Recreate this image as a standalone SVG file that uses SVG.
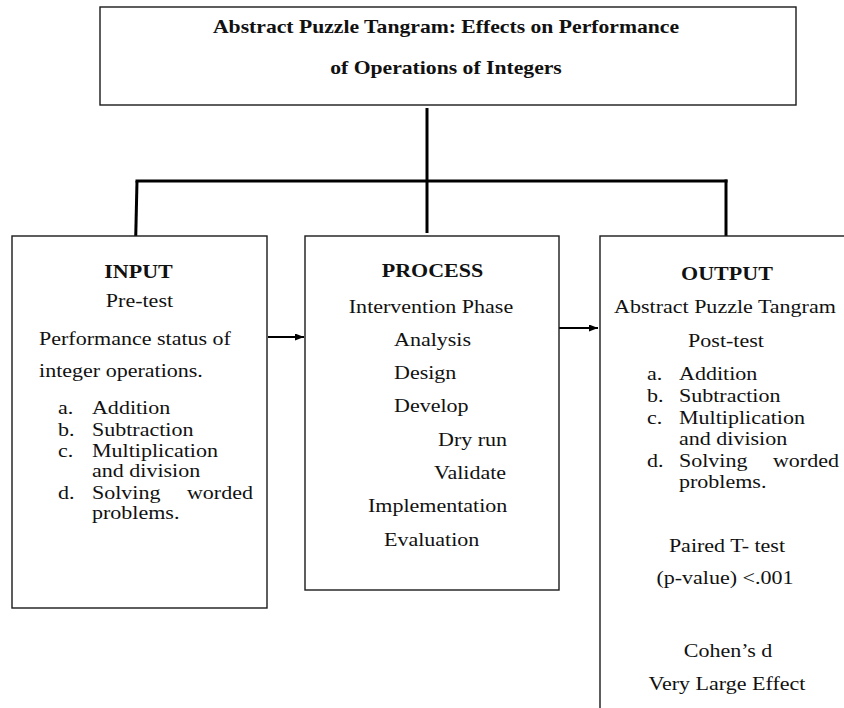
<svg xmlns="http://www.w3.org/2000/svg" width="844" height="708" viewBox="0 0 844 708" font-family="'Liberation Serif', 'Times New Roman', serif">
<style>
  .box { fill: #ffffff; stroke: #1a1a1a; stroke-width: 1.4; }
  .conn { fill: none; stroke: #000000; stroke-width: 3; }
  .arrow { fill: none; stroke: #000000; stroke-width: 2; }
  text { font-family: "Liberation Serif", "Times New Roman", serif; font-size: 18.5px; fill: #111111; }
  .b { font-weight: bold; }
  .t { font-weight: bold; font-size: 18.2px; }
  .c { text-anchor: middle; }
  .e { text-anchor: end; }
</style>
<defs>
  <marker id="ah" markerUnits="userSpaceOnUse" markerWidth="9" markerHeight="7" refX="9" refY="3.5" orient="auto">
    <path d="M0,0 L9,3.5 L0,7 z" fill="#000000"/>
  </marker>
</defs>
<rect width="844" height="708" fill="#ffffff"/>

<g id="connectors">
  <path class="conn" d="M427,108 V233"/>
  <path class="conn" d="M135.5,181 H727.5"/>
  <path class="conn" d="M137,181 L135.7,238"/>
  <path class="conn" d="M726,179.5 V236"/>
  <line class="arrow" x1="268" y1="337" x2="304" y2="337" marker-end="url(#ah)"/>
  <line class="arrow" x1="559" y1="328" x2="598" y2="328" marker-end="url(#ah)"/>
</g>

<g id="title">
  <rect class="box" x="100" y="7" width="696" height="98"/>
  <g transform="scale(1.19 1)">
    <text class="t c" x="374.8" y="33">Abstract Puzzle Tangram:  Effects on Performance</text>
    <text class="t c" x="374.8" y="74">of Operations of Integers</text>
  </g>
</g>

<g id="input">
  <rect class="box" x="12" y="236" width="255" height="372"/>
  <g transform="scale(1.19 1)">
    <text class="b c" x="116.4" y="278">INPUT</text>
    <text class="c" x="117.2" y="307">Pre-test</text>
    <text x="32.8" y="345">Performance status of</text>
    <text x="32.8" y="377">integer operations.</text>
    <text x="48.7" y="414">a.</text><text x="77.3" y="414">Addition</text>
    <text x="48.7" y="436">b.</text><text x="77.3" y="436">Subtraction</text>
    <text x="48.7" y="457">c.</text><text x="77.3" y="457">Multiplication</text>
    <text x="77.3" y="477">and division</text>
    <text x="48.7" y="499">d.</text><text x="77.3" y="499">Solving</text><text class="e" x="212.6" y="499">worded</text>
    <text x="77.3" y="519">problems.</text>
  </g>
</g>

<g id="process">
  <rect class="box" x="305" y="236" width="254" height="354"/>
  <g transform="scale(1.19 1)">
    <text class="b c" x="363.4" y="277">PROCESS</text>
    <text class="c" x="362.2" y="313">Intervention Phase</text>
    <text x="331.1" y="346">Analysis</text>
    <text x="331.1" y="379">Design</text>
    <text x="331.1" y="412">Develop</text>
    <text x="368.1" y="446">Dry run</text>
    <text x="364.7" y="479">Validate</text>
    <text x="309.2" y="512">Implementation</text>
    <text x="322.7" y="546">Evaluation</text>
  </g>
</g>

<g id="output">
  <rect class="box" x="600" y="236" width="260" height="480"/>
  <g transform="scale(1.19 1)">
    <text class="b c" x="610.9" y="280">OUTPUT</text>
    <text class="c" x="609.2" y="313">Abstract Puzzle Tangram</text>
    <text class="c" x="610.1" y="347">Post-test</text>
    <text x="543.7" y="380">a.</text><text x="570.6" y="380">Addition</text>
    <text x="543.7" y="402">b.</text><text x="570.6" y="402">Subtraction</text>
    <text x="543.7" y="424">c.</text><text x="570.6" y="424">Multiplication</text>
    <text x="570.6" y="445">and division</text>
    <text x="543.7" y="467">d.</text><text x="570.6" y="467">Solving</text><text class="e" x="705" y="467">worded</text>
    <text x="570.6" y="488">problems.</text>
    <text class="c" x="610.9" y="552">Paired T- test</text>
    <text class="c" x="609.2" y="584">(p-value) &lt;.001</text>
    <text class="c" x="611.8" y="657">Cohen’s d</text>
    <text class="c" x="610.9" y="690">Very Large Effect</text>
  </g>
</g>
</svg>
